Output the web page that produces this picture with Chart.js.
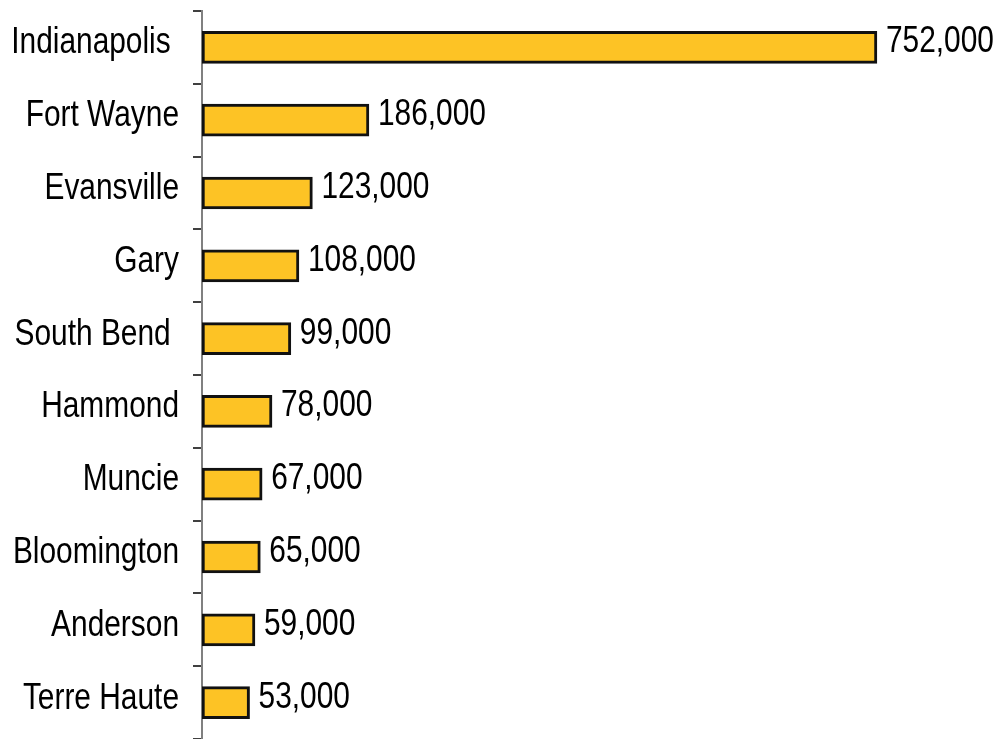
<!DOCTYPE html>
<html><head><meta charset="utf-8">
<script src="https://cdn.jsdelivr.net/npm/chart.js@4/dist/chart.umd.min.js"></script>
<style>html,body{margin:0;padding:0;background:#fff}#wrap{width:997px;height:739px}</style>
</head><body><div id="wrap"><canvas id="c"></canvas></div>
<script>
const cities = ["Indianapolis ", "Fort Wayne", "Evansville", "Gary", "South Bend ", "Hammond", "Muncie", "Bloomington", "Anderson", "Terre Haute"];
const population = [752000, 186000, 123000, 108000, 99000, 78000, 67000, 65000, 59000, 53000];
const xMax = 800000;

const FONT = '"Liberation Sans", Arial, sans-serif';
const NARROW = 0.83;

function drawNarrow(ctx, text, x, y, align) {
  ctx.save();
  ctx.translate(x, y);
  ctx.scale(NARROW, 1);
  ctx.textAlign = align;
  ctx.fillText(text, 0, 0);
  ctx.restore();
}

const textLabels = {
  id: 'textLabels',
  afterDatasetsDraw(chart) {
    const ctx = chart.ctx;
    const meta = chart.getDatasetMeta(0);
    const yScale = chart.scales.y;
    ctx.save();
    ctx.font = '36px ' + FONT;
    ctx.fillStyle = '#000';
    ctx.textBaseline = 'alphabetic';
    meta.data.forEach((bar, i) => {
      drawNarrow(ctx, population[i].toLocaleString('en-US'), bar.x + 9, bar.y + 5, 'left');
      drawNarrow(ctx, cities[i], yScale.right - 23, bar.y + 6, 'right');
    });
    ctx.restore();
  }
};

new Chart(document.getElementById('c'), {
  type: 'bar',
  data: {
    labels: cities,
    datasets: [{
      data: population,
      backgroundColor: '#FDC325',
      borderColor: '#111',
      borderWidth: 3,
      borderSkipped: false,
      barThickness: 32
    }]
  },
  options: {
    indexAxis: 'y',
    responsive: true,
    maintainAspectRatio: false,
    animation: false,
    layout: { padding: { top: 11, right: 77, bottom: 0, left: 0 } },
    plugins: { legend: { display: false }, tooltip: { enabled: false } },
    scales: {
      x: { display: false, min: 0, max: xMax },
      y: {
        afterFit(s) { s.width = 202; s.paddingTop = 0; s.paddingBottom = 0; },
        border: { display: true, color: '#808080', width: 2 },
        grid: { drawOnChartArea: false, drawTicks: true, tickLength: 9, color: '#404040', lineWidth: 2, offset: true },
        ticks: { display: false }
      }
    }
  },
  plugins: [textLabels]
});
</script></body></html>
